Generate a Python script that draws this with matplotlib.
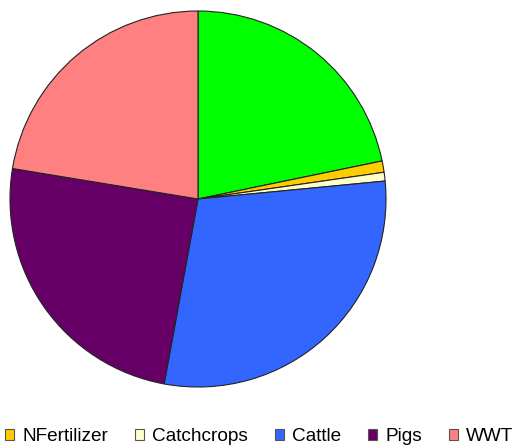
import matplotlib
matplotlib.use("Agg")
import matplotlib.pyplot as plt
from matplotlib.patches import Patch

plt.rcParams['font.family'] = ['Liberation Sans', 'DejaVu Sans']

categories = ["Other", "NFertilizer", "Catchcrops", "Cattle", "Pigs", "WWT"]
values = [21.75, 0.97, 0.75, 29.4, 24.7, 22.4]
colors = ["#00FF00", "#FFCC00", "#FFFFCC", "#3366FF", "#660066", "#FF8080"]
legend_items = ["NFertilizer", "Catchcrops", "Cattle", "Pigs", "WWT"]

fig = plt.figure(figsize=(5.16, 4.46), dpi=100)
ax = fig.add_axes([10/516, (446-387)/446, 376/516, 376/446])
wedges, _ = ax.pie(values, colors=colors, startangle=90, counterclock=False,
                   wedgeprops=dict(edgecolor="#222222", linewidth=0.8), radius=1.0)
ax.set_xlim(-1.0, 1.0)
ax.set_ylim(-1.0, 1.0)
ax.set_aspect('auto')
ax.axis('off')

handles = [Patch(facecolor=colors[categories.index(n)], edgecolor="#555555", linewidth=0.8)
           for n in legend_items]
fig.legend(handles, legend_items, loc='lower left', bbox_to_anchor=(5/516, 1/446), ncol=5,
           frameon=False, fontsize=13.7, handlelength=0.48, handleheight=0.48,
           handletextpad=0.42, columnspacing=1.42, borderaxespad=0.0, borderpad=0.0)

fig.savefig("out.png", dpi=100)
